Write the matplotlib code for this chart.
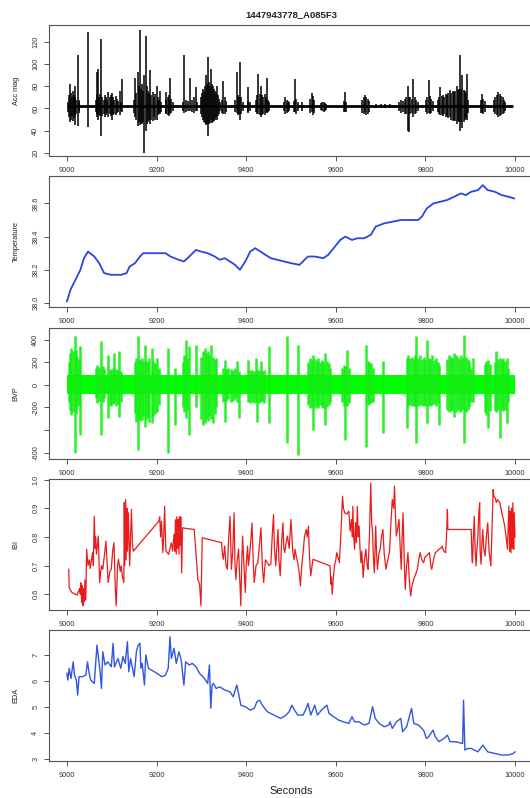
import matplotlib
matplotlib.use("Agg")
import matplotlib.pyplot as plt

plt.rcParams['font.family'] = ['Liberation Sans', 'DejaVu Sans']

title = "1447943778_A085F3"
xticks = [9000, 9200, 9400, 9600, 9800, 10000]

# ---------------- Acc mag ----------------
acc_base = 62.0
# vertical strokes: (time, top, bottom)
acc_strokes = [
    (9003, 66, 57), (9005, 72, 52), (9007, 82, 48), (9009, 74, 50), (9011, 70, 53), (9013, 76, 49), (9015, 72, 51),
    (9017, 80, 45), (9019, 70, 54), (9021, 68, 55), (9024, 108, 44.5), (9026, 68, 56), (9028, 66, 58), (9046, 129, 43),
    (9064, 68, 57), (9066, 93, 55), (9068, 72, 52), (9070, 96, 50), (9072, 70, 54), (9074, 73, 53), (9077, 123, 35.5),
    (9079, 70, 53), (9082, 68, 55), (9085, 72, 52), (9088, 70, 54), (9090, 68, 56), (9092, 75, 52), (9095, 70, 55),
    (9098, 72, 53), (9100, 74, 50), (9103, 70, 54), (9106, 68, 55), (9109, 71, 54), (9112, 69, 56), (9115, 67, 57),
    (9118, 76, 54), (9120, 66, 58), (9124, 87, 57),
    (9150, 68, 56), (9152, 88, 52), (9155, 74, 50), (9158, 93, 44), (9160, 80, 48), (9163, 131, 45), (9165, 78, 47),
    (9168, 82, 46), (9170, 76, 48), (9173, 90, 20), (9176, 126, 40), (9178, 80, 46), (9180, 76, 48), (9183, 74, 50),
    (9185, 95, 46), (9188, 72, 50), (9191, 75, 49), (9194, 70, 52), (9197, 73, 50), (9200, 80, 50), (9203, 70, 54),
    (9206, 68, 55), (9208, 76, 55), (9211, 66, 57),
    (9220, 68, 56), (9222, 75, 55), (9225, 70, 54), (9228, 72, 53), (9230, 88, 55), (9233, 69, 56), (9236, 66, 58),
    (9258, 66, 58), (9262, 108, 56), (9266, 68, 57), (9270, 67, 58), (9275, 88, 58), (9280, 68, 57), (9284, 70, 56),
    (9288, 79, 58), (9291, 66, 58),
    (9300, 70, 55), (9302, 74, 52), (9304, 78, 50), (9306, 76, 48), (9308, 80, 47), (9310, 90, 45), (9312, 82, 46),
    (9315, 107, 35), (9317, 84, 46), (9319, 80, 47), (9322, 96, 50), (9324, 82, 47), (9326, 80, 48), (9328, 78, 49),
    (9330, 76, 50), (9332, 74, 51), (9334, 80, 50), (9337, 72, 53), (9340, 69, 55), (9342, 66, 58),
    (9346, 68, 56), (9349, 85, 55), (9352, 70, 55), (9355, 67, 57),
    (9376, 68, 57), (9379, 93, 56), (9382, 72, 54), (9384, 70, 55), (9386, 102, 50), (9389, 70, 55), (9392, 66, 58),
    (9403, 67, 57), (9405, 79, 56), (9408, 66, 58),
    (9421, 68, 57), (9424, 72, 55), (9427, 91, 55), (9430, 73, 54), (9432, 80, 52), (9435, 72, 54), (9438, 70, 55),
    (9441, 73, 54), (9444, 70, 56), (9446, 88, 56), (9449, 68, 57), (9452, 66, 58),
    (9485, 66, 58), (9487, 70, 55), (9490, 68, 56), (9493, 67, 57), (9496, 66, 58),
    (9506, 67, 57), (9509, 87, 57), (9512, 69, 55), (9515, 66, 58), (9524, 66, 58),
    (9543, 69, 56), (9546, 74, 57), (9548, 71, 54), (9551, 68, 56),
    (9567, 65, 59), (9570, 66, 58), (9573, 66, 57), (9576, 65, 58), (9579, 64, 59),
    (9619, 67, 57), (9621, 75, 57), (9623, 66, 57),
    (9659, 68, 56), (9662, 70, 55), (9665, 72, 57), (9668, 70, 54), (9671, 69, 55), (9674, 67, 57),
    (9690, 64, 60), (9700, 64, 60), (9710, 64, 60), (9720, 64, 60),
    (9742, 66, 58), (9746, 68, 56), (9750, 67, 57), (9754, 69, 55), (9757, 70, 55), (9760, 80, 40), (9763, 70, 38.5),
    (9766, 70, 55), (9769, 69, 56), (9773, 87, 52), (9776, 70, 55), (9779, 68, 56), (9783, 66, 58),
    (9801, 68, 57), (9804, 70, 55), (9807, 85.5, 56), (9810, 71, 55), (9813, 69, 56), (9816, 67, 58),
    (9827, 68, 57), (9830, 70, 55), (9833, 79, 54), (9836, 71, 54), (9839, 72, 53), (9842, 70, 55), (9845, 73, 52),
    (9848, 72, 53), (9851, 74, 51), (9855, 77, 52), (9858, 74, 50), (9861, 76, 49), (9864, 75, 50), (9867, 76, 49),
    (9870, 80, 46), (9873, 77, 49), (9875, 78, 48), (9877, 108, 40), (9880, 78, 48), (9882, 90, 42), (9885, 77, 48),
    (9888, 76, 50), (9890, 74, 51), (9892, 91.5, 50), (9895, 68, 56),
    (9923, 68, 56), (9926, 73, 56), (9929, 69, 55), (9932, 67, 57),
    (9953, 68, 57), (9956, 70, 55), (9959, 72, 54), (9963, 75, 52), (9966, 73, 53), (9969, 71, 54), (9972, 70, 55),
    (9975, 68, 56), (9978, 66, 58),
]

# ---------------- Temperature ----------------
temp_t = [9000, 9008, 9019, 9030, 9038, 9047, 9061, 9072, 9083, 9098, 9121, 9133, 9140, 9152, 9163, 9170, 9182, 9205, 9220, 9231,
          9250, 9261, 9273, 9288, 9299, 9314, 9330, 9341, 9352, 9364, 9375, 9386, 9398, 9409, 9420, 9432, 9443, 9455, 9470, 9485,
          9500, 9519, 9530, 9538, 9553, 9572, 9583, 9595, 9610, 9621, 9636, 9648, 9663, 9678, 9689, 9708, 9727, 9746, 9765, 9784,
          9792, 9803, 9818, 9833, 9848, 9864, 9879, 9890, 9902, 9917, 9928, 9939, 9955, 9970, 9985, 9998]
temp_v = [38.01, 38.08, 38.14, 38.20, 38.27, 38.31, 38.28, 38.24, 38.18, 38.17, 38.17, 38.18, 38.22, 38.24, 38.28, 38.30, 38.30, 38.30, 38.30, 38.28,
          38.26, 38.25, 38.28, 38.32, 38.31, 38.30, 38.28, 38.26, 38.27, 38.25, 38.23, 38.20, 38.25, 38.31, 38.33, 38.31, 38.29, 38.27, 38.26, 38.25,
          38.24, 38.23, 38.26, 38.28, 38.28, 38.27, 38.29, 38.33, 38.38, 38.40, 38.38, 38.39, 38.39, 38.41, 38.46, 38.48, 38.49, 38.50, 38.50, 38.50,
          38.52, 38.57, 38.60, 38.61, 38.62, 38.64, 38.66, 38.65, 38.67, 38.68, 38.71, 38.68, 38.67, 38.65, 38.64, 38.63]

# ---------------- BVP ----------------
bvp_band = 85
bvp_strokes = [
    (9004, 200, -150), (9007, 280, -220), (9010, 325, -266), (9013, 300, -240), (9017, 429, -607), (9020, 310, -260),
    (9023, 250, -200), (9026, 220, -180), (9030, 340, -444),
    (9064, 150, -120), (9068, 177, -163), (9072, 160, -140), (9076, 385, -444), (9080, 170, -150), (9083, 140, -120),
    (9091, 266, -296), (9095, 140, -180), (9099, 133, -192), (9103, 150, -170), (9106, 281, -160), (9110, 140, -190),
    (9114, 130, -170), (9117, 296, -281), (9121, 120, -150),
    (9152, 200, -250), (9155, 237, -325), (9158, 429, -577), (9161, 230, -300), (9164, 220, -320), (9167, 237, -310),
    (9170, 210, -280), (9174, 355, -370), (9177, 220, -300), (9180, 200, -290), (9184, 237, -325), (9189, 325, -340),
    (9193, 210, -280), (9197, 190, -260), (9201, 237, -240), (9205, 150, -180),
    (9226, 325, -607), (9242, 150, -355),
    (9258, 200, -200), (9261, 266, -237), (9265, 400, -296), (9269, 240, -220), (9273, 340, -444), (9288, 355, -200),
    (9299, 250, -300), (9303, 296, -355), (9307, 325, -340), (9311, 280, -300), (9315, 300, -320), (9318, 260, -280),
    (9322, 355, -300), (9326, 250, -340), (9330, 220, -260), (9333, 237, -200),
    (9348, 148, -148), (9352, 222, -325), (9356, 140, -140), (9360, 148, -130), (9365, 140, -148), (9370, 130, -140),
    (9375, 148, -130), (9379, 207, -148), (9383, 120, -296), (9405, 222, -150),
    (9409, 133, -163), (9413, 130, -150), (9417, 120, -163), (9421, 237, -150), (9424, 133, -325), (9428, 130, -163),
    (9432, 207, -150), (9436, 120, -140), (9440, 130, -160), (9451, 340, -340), (9490, 429, -518), (9515, 355, -621),
    (9538, 200, -180), (9542, 237, -207), (9546, 220, -200), (9549, 266, -400), (9553, 230, -207), (9557, 210, -190),
    (9561, 237, -207), (9565, 200, -180), (9569, 220, -200), (9572, 200, -207), (9576, 281, -355), (9580, 210, -200),
    (9584, 190, -180), (9587, 150, -150),
    (9614, 150, -150), (9618, 177, -192), (9621, 170, -488), (9625, 311, -192), (9629, 150, -160),
    (9667, 355, -547), (9671, 207, -177), (9675, 200, -170), (9679, 190, -160), (9682, 150, -150), (9705, 207, -429),
    (9758, 237, -385), (9762, 266, -192), (9766, 240, -180), (9770, 250, -192), (9774, 230, -190), (9777, 266, -192),
    (9780, 429, -518), (9784, 240, -190), (9788, 266, -180), (9792, 230, -192), (9796, 250, -180), (9800, 220, -190),
    (9803, 400, -340), (9807, 240, -180), (9811, 230, -192), (9815, 266, -180), (9819, 220, -170), (9823, 240, -190),
    (9827, 200, -160), (9830, 178, -355),
    (9848, 230, -220), (9852, 266, -237), (9856, 250, -230), (9860, 240, -220), (9864, 281, -281), (9868, 266, -237),
    (9872, 250, -220), (9876, 230, -237), (9880, 266, -230), (9883, 240, -210), (9886, 444, -518), (9890, 250, -237),
    (9894, 230, -220), (9898, 210, -200), (9902, 150, -150), (9905, 237, -150),
    (9932, 180, -240), (9936, 207, -266), (9939, 222, -385), (9943, 180, -230),
    (9955, 200, -220), (9958, 296, -237), (9962, 230, -220), (9966, 237, -473), (9970, 220, -210), (9974, 237, -230),
    (9978, 210, -220), (9981, 237, -340), (9985, 150, -150),
]

# ---------------- IBI ----------------
ibi_points = [
    (9004, 0.687), (9005, 0.623), (9011, 0.606), (9023, 0.597), (9028, 0.62), (9030, 0.60), (9031, 0.64), (9033, 0.57),
    (9034, 0.63), (9036, 0.56), (9037, 0.62), (9039, 0.575), (9040, 0.65), (9042, 0.58), (9044, 0.757), (9047, 0.70),
    (9050, 0.72), (9052, 0.69), (9057, 0.745), (9059, 0.70), (9061, 0.872), (9063, 0.76), (9064, 0.80), (9066, 0.74),
    (9070, 0.803), (9073, 0.641), (9077, 0.70), (9080, 0.687), (9084, 0.74), (9087, 0.785), (9090, 0.70), (9092, 0.641),
    (9096, 0.68), (9099, 0.687), (9102, 0.75), (9105, 0.78), (9108, 0.62), (9110, 0.56), (9113, 0.70), (9115, 0.722),
    (9119, 0.68), (9121, 0.699), (9124, 0.66), (9127, 0.641), (9128, 0.92), (9129, 0.70), (9131, 0.93), (9132, 0.72),
    (9134, 0.90), (9135, 0.75), (9137, 0.884), (9140, 0.699), (9144, 0.896), (9146, 0.78), (9148, 0.75),
    (9205, 0.855), (9207, 0.87), (9209, 0.80), (9211, 0.855), (9214, 0.745), (9216, 0.80), (9218, 0.907), (9220, 0.79),
    (9221, 0.75), (9227, 0.739), (9233, 0.78), (9236, 0.75), (9239, 0.809), (9241, 0.75), (9242, 0.86), (9244, 0.74),
    (9245, 0.87), (9247, 0.76), (9248, 0.86), (9250, 0.74), (9251, 0.87), (9253, 0.77), (9254, 0.87), (9256, 0.675),
    (9258, 0.832), (9264, 0.830),
    (9284, 0.826), (9290, 0.70), (9292, 0.652), (9296, 0.635), (9299, 0.56), (9302, 0.797),
    (9345, 0.780), (9347, 0.74), (9349, 0.722), (9352, 0.768), (9355, 0.70), (9358, 0.687), (9361, 0.80), (9364, 0.872),
    (9367, 0.687), (9370, 0.75), (9373, 0.884), (9375, 0.70), (9377, 0.652), (9380, 0.72), (9383, 0.757), (9386, 0.64),
    (9388, 0.56), (9390, 0.70), (9392, 0.803), (9395, 0.70), (9398, 0.606), (9400, 0.70), (9403, 0.768), (9405, 0.70),
    (9408, 0.745), (9411, 0.80), (9413, 0.849), (9416, 0.70), (9418, 0.641), (9422, 0.70), (9426, 0.710), (9430, 0.78),
    (9433, 0.832), (9436, 0.70), (9439, 0.641), (9443, 0.72), (9447, 0.710), (9451, 0.70), (9455, 0.705), (9458, 0.80),
    (9461, 0.878), (9463, 0.76), (9466, 0.699), (9469, 0.78), (9471, 0.826), (9473, 0.72), (9476, 0.664), (9479, 0.78),
    (9482, 0.849), (9484, 0.76), (9486, 0.745), (9489, 0.78), (9492, 0.803), (9496, 0.76), (9500, 0.861), (9502, 0.80),
    (9504, 0.745), (9507, 0.72), (9509, 0.757), (9512, 0.73), (9515, 0.710), (9518, 0.68), (9521, 0.629), (9524, 0.70),
    (9527, 0.745), (9530, 0.80), (9534, 0.826), (9536, 0.80), (9539, 0.838), (9541, 0.74), (9544, 0.664), (9547, 0.70),
    (9549, 0.722),
    (9587, 0.699), (9589, 0.635), (9590, 0.66), (9592, 0.60), (9594, 0.65), (9597, 0.699), (9600, 0.72), (9602, 0.745),
    (9605, 0.73), (9608, 0.710), (9611, 0.80), (9615, 0.942), (9617, 0.90), (9620, 0.884), (9625, 0.88), (9629, 0.890),
    (9632, 0.82), (9635, 0.861), (9637, 0.80), (9638, 0.907), (9640, 0.80), (9642, 0.757), (9644, 0.85), (9646, 0.78),
    (9648, 0.907), (9650, 0.80), (9652, 0.838), (9654, 0.76), (9656, 0.710), (9658, 0.75), (9661, 0.658), (9664, 0.72),
    (9667, 0.757), (9670, 0.70), (9672, 0.687), (9675, 0.80), (9678, 0.988), (9680, 0.85), (9682, 0.814), (9684, 0.72),
    (9686, 0.675), (9688, 0.78), (9689, 0.838), (9691, 0.74), (9693, 0.687), (9696, 0.74), (9699, 0.757), (9702, 0.80),
    (9705, 0.826), (9708, 0.74), (9712, 0.687), (9716, 0.72), (9720, 0.750), (9723, 0.85), (9726, 0.930), (9729, 0.90),
    (9731, 0.977), (9733, 0.88), (9735, 0.803), (9738, 0.83), (9741, 0.861), (9744, 0.75), (9746, 0.687), (9748, 0.80),
    (9750, 0.884), (9753, 0.70), (9755, 0.617), (9758, 0.70), (9761, 0.745), (9764, 0.65), (9767, 0.594), (9770, 0.63),
    (9774, 0.652), (9778, 0.67), (9782, 0.687), (9785, 0.72), (9788, 0.745), (9792, 0.72), (9796, 0.710), (9799, 0.73),
    (9802, 0.733), (9806, 0.74), (9809, 0.745), (9812, 0.70), (9814, 0.687), (9818, 0.72), (9822, 0.745), (9826, 0.75),
    (9830, 0.757), (9834, 0.76), (9837, 0.768), (9841, 0.75), (9845, 0.745), (9847, 0.80), (9849, 0.896), (9850, 0.826),
    (9902, 0.826), (9904, 0.72), (9905, 0.710), (9907, 0.80), (9909, 0.872), (9911, 0.75), (9913, 0.699), (9915, 0.76),
    (9917, 0.803), (9919, 0.88), (9921, 0.919), (9922, 0.75), (9924, 0.705), (9926, 0.78), (9928, 0.826), (9930, 0.76),
    (9933, 0.733), (9936, 0.80), (9939, 0.849), (9942, 0.75), (9946, 0.699), (9949, 0.85), (9951, 0.965), (9953, 0.94),
    (9956, 0.936), (9958, 0.92), (9961, 0.930), (9966, 0.919), (9971, 0.88), (9977, 0.838), (9980, 0.80), (9983, 0.757),
    (9985, 0.85), (9986, 0.907), (9988, 0.75), (9989, 0.89), (9991, 0.745), (9992, 0.90), (9994, 0.76), (9995, 0.919),
    (9997, 0.757), (9998, 0.884), (10000, 0.80),
]

# ---------------- EDA ----------------
eda_t = [9000, 9002, 9005, 9009, 9014, 9017, 9021, 9024, 9027, 9034, 9042, 9046, 9049, 9053, 9061, 9067, 9070, 9074, 9077, 9080,
         9085, 9091, 9099, 9103, 9106, 9114, 9120, 9125, 9130, 9135, 9138, 9142, 9150, 9155, 9159, 9163, 9165, 9168, 9173, 9176,
         9182, 9189, 9201, 9212, 9220, 9226, 9230, 9233, 9239, 9244, 9250, 9255, 9261, 9265, 9273, 9280, 9288, 9296, 9307, 9314,
         9318, 9321, 9324, 9327, 9333, 9341, 9352, 9364, 9371, 9379, 9383, 9388, 9398, 9409, 9418, 9424, 9430, 9436, 9447, 9462,
         9477, 9489, 9496, 9502, 9508, 9515, 9527, 9534, 9538, 9544, 9553, 9559, 9568, 9580, 9585, 9595, 9606, 9617, 9629, 9636,
         9642, 9652, 9663, 9674, 9682, 9688, 9697, 9708, 9718, 9721, 9726, 9735, 9745, 9749, 9758, 9769, 9774, 9784, 9796, 9802,
         9807, 9817, 9822, 9830, 9841, 9849, 9855, 9867, 9883, 9885, 9888, 9894, 9902, 9909, 9917, 9928, 9939, 9955, 9970, 9985,
         9996, 10000]
eda_v = [6.30, 6.04, 6.49, 6.10, 6.74, 6.23, 6.04, 5.47, 6.17, 6.17, 6.23, 6.74, 6.36, 6.04, 5.91, 7.38, 6.94, 6.36, 5.72, 7.13,
         6.62, 6.74, 6.55, 7.45, 6.55, 6.87, 6.49, 6.94, 6.68, 7.51, 6.36, 6.87, 6.17, 7.13, 7.38, 7.45, 6.49, 6.68, 5.85, 7.00,
         6.49, 6.42, 6.30, 6.17, 6.23, 6.49, 7.70, 6.87, 7.26, 6.68, 7.13, 6.81, 5.85, 6.74, 6.62, 6.68, 6.55, 6.30, 6.10, 5.91,
         6.62, 4.96, 5.85, 5.91, 5.72, 5.78, 5.66, 5.59, 5.40, 5.85, 5.53, 5.08, 5.02, 4.89, 4.96, 5.21, 5.27, 5.08, 4.83, 4.70,
         4.57, 4.70, 4.83, 5.08, 4.89, 4.70, 4.70, 4.96, 5.15, 4.70, 5.08, 4.70, 4.89, 5.08, 4.76, 4.64, 4.51, 4.44, 4.38, 4.64,
         4.44, 4.44, 4.32, 4.38, 5.02, 4.57, 4.38, 4.25, 4.32, 4.44, 4.19, 4.44, 4.57, 4.06, 4.25, 4.96, 4.38, 4.32, 4.12, 3.80,
         3.87, 4.12, 3.87, 3.68, 3.80, 3.93, 3.68, 3.68, 3.61, 5.27, 3.36, 3.42, 3.42, 3.36, 3.29, 3.55, 3.29, 3.23, 3.17, 3.17,
         3.23, 3.29]

# ---------------- layout ----------------
W, H = 530, 798
fig = plt.figure(figsize=(W / 100, H / 100), dpi=100)
left_px, right_px = 49, 533
tops = [25, 176, 328, 479, 630]
hpx = 131
frame_col = '#555555'
tick_fs = 5.3


def make_ax(i):
    ax = fig.add_axes([left_px / W, 1 - (tops[i] + hpx) / H, (right_px - left_px) / W, hpx / H])
    ax.set_xlim(8960, 10040)
    ax.set_xticks(xticks)
    ax.set_xticklabels([str(v) for v in xticks], fontsize=tick_fs, color='#333333')
    for s in ax.spines.values():
        s.set_color(frame_col)
        s.set_linewidth(0.8)
    ax.tick_params(direction='out', length=3.5, width=0.7, color=frame_col, pad=4.5, labelsize=tick_fs)
    ax.tick_params(axis='y', pad=3.5)
    return ax


def finish_y(ax, ticks, labels, ylabel):
    ax.set_yticks(ticks)
    ax.set_yticklabels(labels, rotation=90, va='center', fontsize=tick_fs, color='#333333')
    ax.set_ylabel(ylabel, fontsize=5.3, color='#222222', labelpad=9)


# Panel 1: Acc mag
ax1 = make_ax(0)
ax1.plot([9000, 9995], [acc_base, acc_base], color='black', lw=2.0, solid_capstyle='butt')
a_t = [s[0] for s in acc_strokes]
a_hi = [s[1] for s in acc_strokes]
a_lo = [s[2] for s in acc_strokes]
ax1.vlines(a_t, a_lo, a_hi, color='black', lw=1.3, alpha=0.85)
ax1.set_ylim(17, 135.5)
finish_y(ax1, [20, 40, 60, 80, 100, 120], ['20', '40', '60', '80', '100', '120'], 'Acc mag')
ax1.set_title(title, fontsize=6.8, fontweight='bold', color='#222222', pad=6)

# Panel 2: Temperature
ax2 = make_ax(1)
ax2.plot(temp_t, temp_v, color='#2a45e0', lw=1.3)
ax2.set_ylim(37.976, 38.765)
finish_y(ax2, [38.0, 38.2, 38.4, 38.6], ['38.0', '38.2', '38.4', '38.6'], 'Temperature')

# Panel 3: BVP
ax3 = make_ax(2)
ax3.fill_between([9000, 10000], [-bvp_band, -bvp_band], [bvp_band, bvp_band], color='#00ff00', lw=0)
b_t = [s[0] for s in bvp_strokes]
b_hi = [s[1] for s in bvp_strokes]
b_lo = [s[2] for s in bvp_strokes]
ax3.vlines(b_t, b_lo, b_hi, color='#11ee11', lw=1.8, alpha=0.9)
ax3.set_ylim(-657, 503)
finish_y(ax3, [400, 200, 0, -200, -400, -600], ['400', '200', '0', '-200', '', '-600'], 'BVP')

# Panel 4: IBI
ax4 = make_ax(3)
ibi_t = [p[0] for p in ibi_points]
ibi_v = [p[1] for p in ibi_points]
ax4.plot(ibi_t, ibi_v, color='#e81c1c', lw=0.9)
ax4.set_ylim(0.545, 1.002)
finish_y(ax4, [0.6, 0.7, 0.8, 0.9, 1.0], ['0.6', '0.7', '0.8', '0.9', '1.0'], 'IBI')

# Panel 5: EDA
ax5 = make_ax(4)
ax5.plot(eda_t, eda_v, color='#3355e0', lw=1.0)
ax5.set_ylim(2.94, 7.96)
finish_y(ax5, [3, 4, 5, 6, 7], ['3', '4', '5', '6', '7'], 'EDA')
ax5.set_xlabel('Seconds', fontsize=8, color='#222222', labelpad=5)

fig.savefig('out.png', dpi=100)
